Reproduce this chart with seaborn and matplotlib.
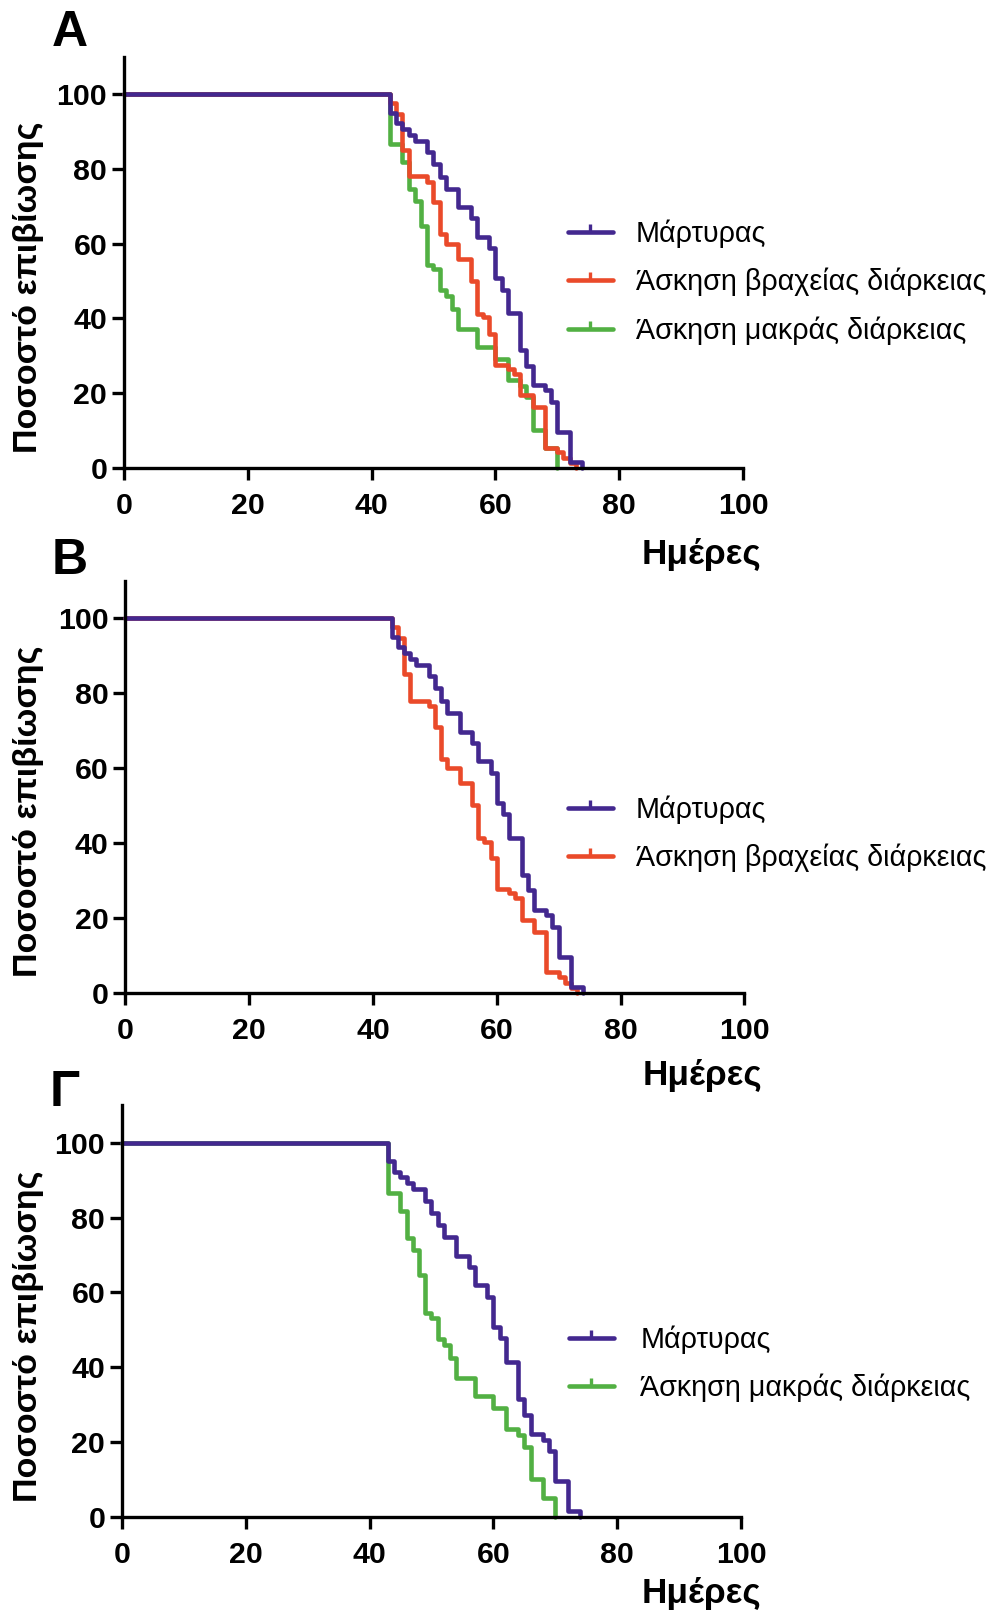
import numpy as np
import pandas as pd
import matplotlib
matplotlib.use("Agg")
import matplotlib.pyplot as plt
import seaborn as sns
from matplotlib.lines import Line2D

# ---------------- data (Kaplan-Meier steps) ----------------
control_days = [0, 43, 44, 45, 46, 47, 49, 50, 51, 52, 54, 56, 57, 59, 60, 61, 62, 64, 65, 66, 68, 69, 70, 72, 74]
control_surv = [100, 95.0, 92.3, 90.8, 89.2, 87.6, 84.5, 81.3, 77.9, 74.7, 69.7, 66.8, 61.9, 58.8, 50.8, 47.7,
                41.3, 31.5, 27.3, 22.2, 20.7, 17.6, 9.6, 1.5, 0]

short_days = [0, 43, 44, 45, 46, 49, 50, 51, 52, 54, 56, 57, 58, 59, 60, 62, 63, 64, 66, 68, 70, 71, 72, 73]
short_surv = [100, 97.7, 94.8, 85.0, 78.0, 76.5, 71.1, 62.5, 60.0, 55.9, 50.1, 41.2, 40.3, 35.9, 27.6, 26.5,
              25.2, 19.4, 16.3, 5.4, 4.2, 2.6, 1.3, 0]

long_days = [0, 43, 45, 46, 47, 48, 49, 50, 51, 52, 53, 54, 57, 60, 62, 64, 65, 66, 68, 70]
long_surv = [100, 86.6, 81.8, 74.5, 71.3, 64.7, 54.4, 53.1, 47.6, 46.0, 42.4, 37.2, 32.4, 29.0, 23.5, 21.9,
             18.8, 10.2, 5.2, 0]

group_names = ["Μάρτυρας", "Άσκηση βραχείας διάρκειας", "Άσκηση μακράς διάρκειας"]
group_colors = ["#43288f", "#ea4a2a", "#52b043"]
panel_letters = ["A", "B", "Γ"]
panel_groups = [[0, 1, 2], [0, 1], [0, 2]]
x_ticks = [0, 20, 40, 60, 80, 100]
y_ticks = [0, 20, 40, 60, 80, 100]
x_label = "Ημέρες"
y_label = "Ποσοστό επιβίωσης"

# ---------------- styling ----------------
sns.set_theme(style="ticks")
plt.rcParams["font.family"] = ["Liberation Sans", "DejaVu Sans"]

W, H = 995, 1614
fig = plt.figure(figsize=(W / 100, H / 100), dpi=100)
fig.patch.set_facecolor("white")

series = [(control_days, control_surv), (short_days, short_surv), (long_days, long_surv)]

# axes rectangles in pixel units: (x0, x100, y0, ytop)
axes_px = [(123.9, 743.0, 467.7, 56.9), (125.3, 744.4, 992.7, 580.9), (121.9, 741.0, 1517.0, 1105.3)]
xlabel_pos = [(701, 554.5), (702, 1076), (701, 1594)]
legend_pos = [(568, 282.0), (568, 834.0), (569, 1364.0)]
legend_textpad = [0.8, 0.8, 0.93]
letter_pos = [(52, 46), (52, 574), (50, 1106)]

for i, (x0, x1, y0, yt) in enumerate(axes_px):
    ax = fig.add_axes([x0 / W, 1 - y0 / H, (x1 - x0) / W, (y0 - yt) / H])
    ax.set_facecolor("white")
    rows = []
    # draw order: long, short, control (control on top)
    order = [g for g in [2, 1, 0] if g in panel_groups[i]]
    for g in order:
        d, s = series[g]
        rows.append(pd.DataFrame({"day": d, "surv": s, "group": group_names[g]}))
    df = pd.concat(rows, ignore_index=True)
    sns.lineplot(data=df, x="day", y="surv", hue="group",
                 hue_order=[group_names[g] for g in order],
                 palette=[group_colors[g] for g in order],
                 drawstyle="steps-post", estimator=None, sort=False,
                 lw=3.3, legend=False, ax=ax, clip_on=False)
    ax.set_xlim(0, 100)
    ax.set_ylim(0, 110)
    ax.set_xticks(x_ticks)
    ax.set_yticks(y_ticks)
    sns.despine(ax=ax)
    for sp in ["left", "bottom"]:
        ax.spines[sp].set_linewidth(2.4)
        ax.spines[sp].set_color("black")
    ax.tick_params(axis="both", length=8.5, width=2.4, color="black",
                   labelsize=21.8, labelcolor="black", direction="out")
    ax.tick_params(axis="x", pad=9)
    ax.tick_params(axis="y", pad=3.5)
    for lab in ax.get_xticklabels() + ax.get_yticklabels():
        lab.set_fontweight("bold")
    ax.set_xlabel(x_label, fontsize=25.3, fontweight="bold", color="black", va="center", ha="center")
    xl, yl = xlabel_pos[i]
    ax.xaxis.set_label_coords((xl - x0) / (x1 - x0), -(yl - y0) / (y0 - yt))
    ax.set_ylabel(y_label, fontsize=24.6, fontweight="bold", color="black", va="center", ha="center")
    ax.yaxis.set_label_coords((29 - x0) / (x1 - x0), 0.44)

    handles = [Line2D([0], [0], color=group_colors[g], lw=3.3, marker=2, markersize=6,
                      markeredgewidth=2.4) for g in panel_groups[i]]
    labels = [group_names[g] for g in panel_groups[i]]
    lx, ly = legend_pos[i]
    fig.legend(handles, labels, loc="center left", bbox_to_anchor=(lx / W, 1 - ly / H),
               frameon=False, fontsize=20.7, handlelength=1.55, handletextpad=legend_textpad[i],
               labelspacing=0.69, borderpad=0, borderaxespad=0, labelcolor="black")

    px, py = letter_pos[i]
    fig.text(px / W, 1 - py / H, panel_letters[i], fontsize=36, fontweight="bold",
             ha="left", va="baseline", color="black")

fig.savefig("out.png", dpi=100, facecolor="white")
